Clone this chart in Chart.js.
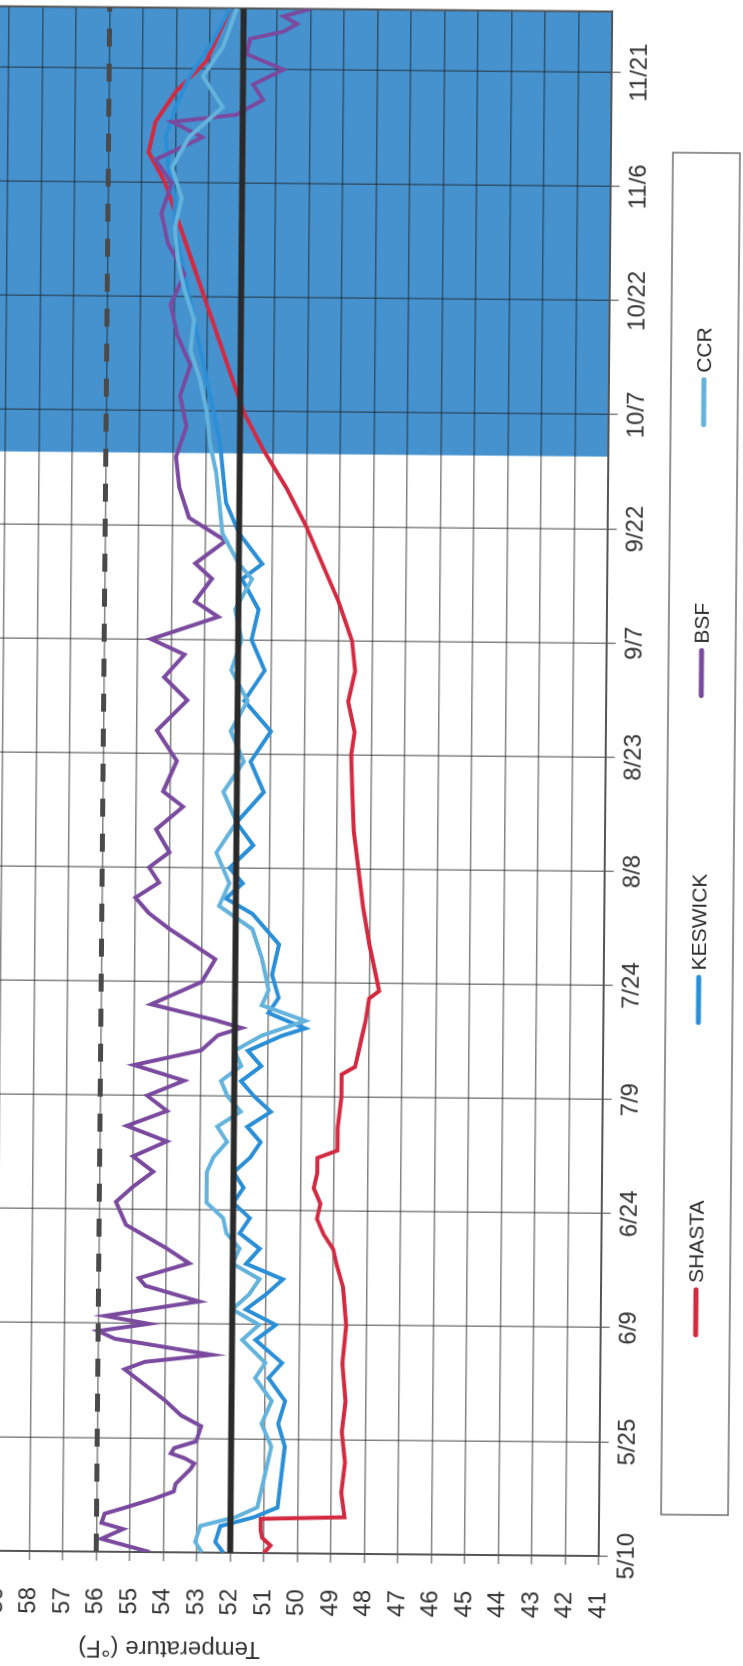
<!DOCTYPE html>
<html><head><meta charset="utf-8">
<script src="https://cdn.jsdelivr.net/npm/chart.js@4"></script>
<style>
html,body{margin:0;padding:0;width:743px;height:1666px;overflow:hidden;background:#fff;}
#scan{position:absolute;left:0;top:0;width:743px;height:1666px;transform-origin:371px 833px;transform:rotate(0.5deg);}
#wrap{position:absolute;left:0;top:0;width:1666px;height:1050px;transform-origin:0 0;transform:translate(-300px,1666px) rotate(-90deg);}
canvas{display:block;}
</style></head>
<body><div id="scan"><div id="wrap"><canvas id="c" width="1666" height="1050"></canvas></div></div>
<script>
// x values are days after 5/10
const tickLabels = ['5/10','5/25','6/9','6/24','7/9','7/24','8/8','8/23','9/7','9/22','10/7','10/22','11/6','11/21'];
const lastDay = 203;
const shadeStartDay = 144.5;
const dashedLimit = 56;
const solidTarget = 52;

const shastaDays = [0,1,2,3,4.5,4.8,8,12,16,20,25,30,35,38,40,42,44,46,48,50,52,53,56,60,63,64,66,68,70,73,74,76,80,85,90,95,100,105,108,112,116,120,125,130,135,140,145,150,155,160,165,170,175,180,184,188,192,196,200,203];
const shastaTemps = [51.0,50.8,51.05,51.1,51.1,48.6,48.7,48.6,48.7,48.6,48.7,48.6,48.7,48.9,49.0,49.3,49.5,49.4,49.6,49.5,49.5,48.9,48.9,48.8,48.8,48.4,48.3,48.2,48.1,48.0,47.7,47.8,48.0,48.2,48.35,48.5,48.55,48.6,48.5,48.7,48.5,48.6,49.0,49.5,50.0,50.6,51.3,51.9,52.3,52.7,53.1,53.5,53.9,54.3,54.8,54.6,54.0,53.1,52.7,52.4];

const keswickDays = [0,1.4,3.5,4.7,6,10,14,17,20,23,25,28,30,32,34,36,38,40,42,44,46,48,50,52,54,56,58,60,62,64,66,68,69,71,73,76,80,84,86,88,90,93,96,100,104,108,112,116,120,124,128,130,134,138,142,146,150,154,158,162,166,170,174,178,182,186,190,194,198,203];
const keswickTemps = [52.2,52.45,52.3,51.3,50.6,50.5,50.4,50.6,50.4,50.9,50.5,51.3,50.7,51.6,51.0,50.5,51.6,51.2,51.8,51.5,52.0,51.7,52.0,51.5,51.2,51.6,50.9,51.4,51.8,51.2,51.6,50.6,49.9,51.0,50.7,50.9,50.7,51.5,52.3,51.8,52.2,51.5,52.0,51.2,51.6,51.0,51.8,51.2,51.6,51.4,51.9,51.3,52.0,52.4,52.5,52.6,52.8,53.0,53.2,53.4,53.6,53.8,54.0,54.0,54.2,54.3,54.0,53.6,53.0,52.4];

const bsfDays = [0,1.7,3,3.8,5,5.8,7,8,9,11,11.7,12.4,13,13.7,14.6,16.6,18,20,22,24,25,26,28,29,30,31,33,35,36,38,40,43,46,48,50,52,54,56,58,60,62,64,66,68,69,70,72,75,78,80,82,84,86,88,90,92,95,98,100,104,108,112,115,118,120,123,125,128,130,133,136,140,144,148,152,156,160,164,168,172,176,180,183,186,188,189,191,193,195,197,199,200,201,202,203];
const bsfTemps = [54.4,55.85,55.2,55.85,55.76,55.16,54.3,53.7,53.65,53.2,53.1,53.4,53.8,53.7,53.05,52.9,53.5,54.0,54.6,55.2,54.6,52.6,55.5,56.0,54.5,55.8,53.0,54.6,54.8,53.3,54.0,55.2,55.5,55.0,54.4,55.0,54.0,55.2,54.0,54.6,53.5,55.0,53.0,52.5,51.8,52.6,54.5,53.0,52.6,53.3,54.0,54.6,55.0,54.3,54.6,54.0,54.4,53.6,54.2,53.8,54.4,53.5,54.2,53.6,54.6,52.6,53.3,52.8,53.3,52.4,53.5,53.8,53.9,53.6,53.8,53.5,53.9,54.1,53.7,54.2,54.4,54.1,54.6,53.2,54.1,52.2,51.4,51.7,50.8,51.9,51.8,50.8,50.4,50.8,50.0];

const ccrDays = [0,1.4,3.5,4.7,6,10,14,17,20,23,25,28,30,32,34,36,38,40,42,44,46,48,50,52,54,56,58,60,62,64,66,68,70,72,74,78,82,85,88,92,96,100,104,108,112,116,120,124,128,130,134,138,142,146,150,154,158,162,166,170,174,178,182,186,190,194,198,203];
const ccrTemps = [52.85,53.05,52.9,51.85,51.2,51.0,50.8,51.1,50.8,51.3,51.0,51.7,51.2,52.0,51.5,51.2,52.0,51.8,52.2,52.3,52.8,52.8,52.8,52.6,52.2,52.5,51.8,52.2,52.4,51.8,52.0,51.2,49.9,51.2,51.0,51.2,51.5,52.5,52.2,52.6,52.0,52.4,51.8,52.2,51.7,52.2,51.9,52.1,51.6,52.0,52.5,52.6,52.7,52.9,53.0,53.2,53.5,53.4,53.7,53.9,54.0,53.8,54.1,53.6,52.6,53.2,52.6,52.2];

function pts(days, temps){ return days.map((d,i)=>({x:d, y:temps[i]})); }

const FONT = '"Liberation Sans", Arial, Helvetica, sans-serif';

const shadePlugin = {
  id:'shade',
  beforeDraw(chart){
    const {ctx, chartArea:a, scales:{x}} = chart;
    const x0 = x.getPixelForValue(shadeStartDay);
    ctx.save();
    ctx.fillStyle = '#4592cf';
    ctx.fillRect(x0, a.top, a.right - x0, a.bottom - a.top);
    ctx.restore();
  },
  beforeDatasetsDraw(chart){
    const {ctx, chartArea:a} = chart;
    ctx.save();
    ctx.strokeStyle = '#555';
    ctx.lineWidth = 2;
    ctx.strokeRect(a.left, a.top, a.right - a.left, a.bottom - a.top);
    ctx.restore();
  }
};

const legendPlugin = {
  id:'boxLegend',
  afterDraw(chart){
    const c = chart.ctx;
    c.save();
    c.strokeStyle = '#707070';
    c.lineWidth = 1.5;
    c.strokeRect(154, 967, 1362, 67);
    c.font = '21px ' + FONT;
    c.textBaseline = 'middle';
    let x = 331; const y = 1000;
    chart.data.datasets.filter(d => d.inLegend).forEach(d => {
      c.strokeStyle = d.borderColor; c.lineWidth = 5; c.lineCap = 'round';
      c.beginPath(); c.moveTo(x + 3, y); c.lineTo(x + 48, y); c.stroke();
      c.fillStyle = '#2a2a2a';
      c.fillText(d.label, x + 55, y + 1);
      x += 55 + c.measureText(d.label).width + 175;
    });
    c.restore();
  }
};

const lineStyle = {pointRadius:0, borderWidth:4, tension:0, fill:false, inLegend:true};

new Chart(document.getElementById('c'), {
  type:'line',
  data:{datasets:[
    Object.assign({label:'SHASTA', data:pts(shastaDays, shastaTemps), borderColor:'#d42a41', order:4}, lineStyle),
    Object.assign({label:'KESWICK', data:pts(keswickDays, keswickTemps), borderColor:'#2b8fd7', order:3}, lineStyle),
    Object.assign({label:'BSF', data:pts(bsfDays, bsfTemps), borderColor:'#7a4a9f', order:2}, lineStyle),
    Object.assign({label:'CCR', data:pts(ccrDays, ccrTemps), borderColor:'#63b3dc', order:1}, lineStyle),
    {label:'limit', data:[{x:0,y:dashedLimit},{x:lastDay,y:dashedLimit}], borderColor:'#4a4a4a', borderWidth:5, borderDash:[18,17], pointRadius:0, order:0},
    {label:'target', data:[{x:0,y:solidTarget},{x:lastDay,y:solidTarget}], borderColor:'#2a2a2a', borderWidth:6, pointRadius:0, order:0}
  ]},
  options:{
    responsive:false, animation:false, devicePixelRatio:1,
    layout:{padding:{left:0, right:9.5, top:47.4, bottom:0}},
    plugins:{legend:{display:false}, tooltip:{enabled:false}},
    scales:{
      x:{type:'linear', min:0, max:lastDay,
        afterFit(s){ s.height = 145; },
        ticks:{stepSize:15, includeBounds:false, autoSkip:false, maxRotation:0, padding:5, color:'#333',
          font:{family:FONT, size:24}, callback:(v)=> tickLabels[Math.round(v/15)] || ''},
        grid:{color:'rgba(30,30,30,0.55)', lineWidth:1.5, tickLength:9},
        border:{display:true, color:'#555', width:2}
      },
      y:{type:'linear', min:41, max:66.6,
        afterFit(s){ s.width = 112; },
        ticks:{stepSize:1, includeBounds:false, padding:27, color:'#333', font:{family:FONT, size:24}},
        grid:{color:'rgba(30,30,30,0.55)', lineWidth:1.5, tickLength:9},
        border:{display:true, color:'#555', width:2},
        title:{display:true, text:'Temperature (°F)', color:'#333', font:{family:FONT, size:24}, padding:{top:2, bottom:0}}
      }
    }
  },
  plugins:[shadePlugin, legendPlugin]
});
</script>
</body></html>
